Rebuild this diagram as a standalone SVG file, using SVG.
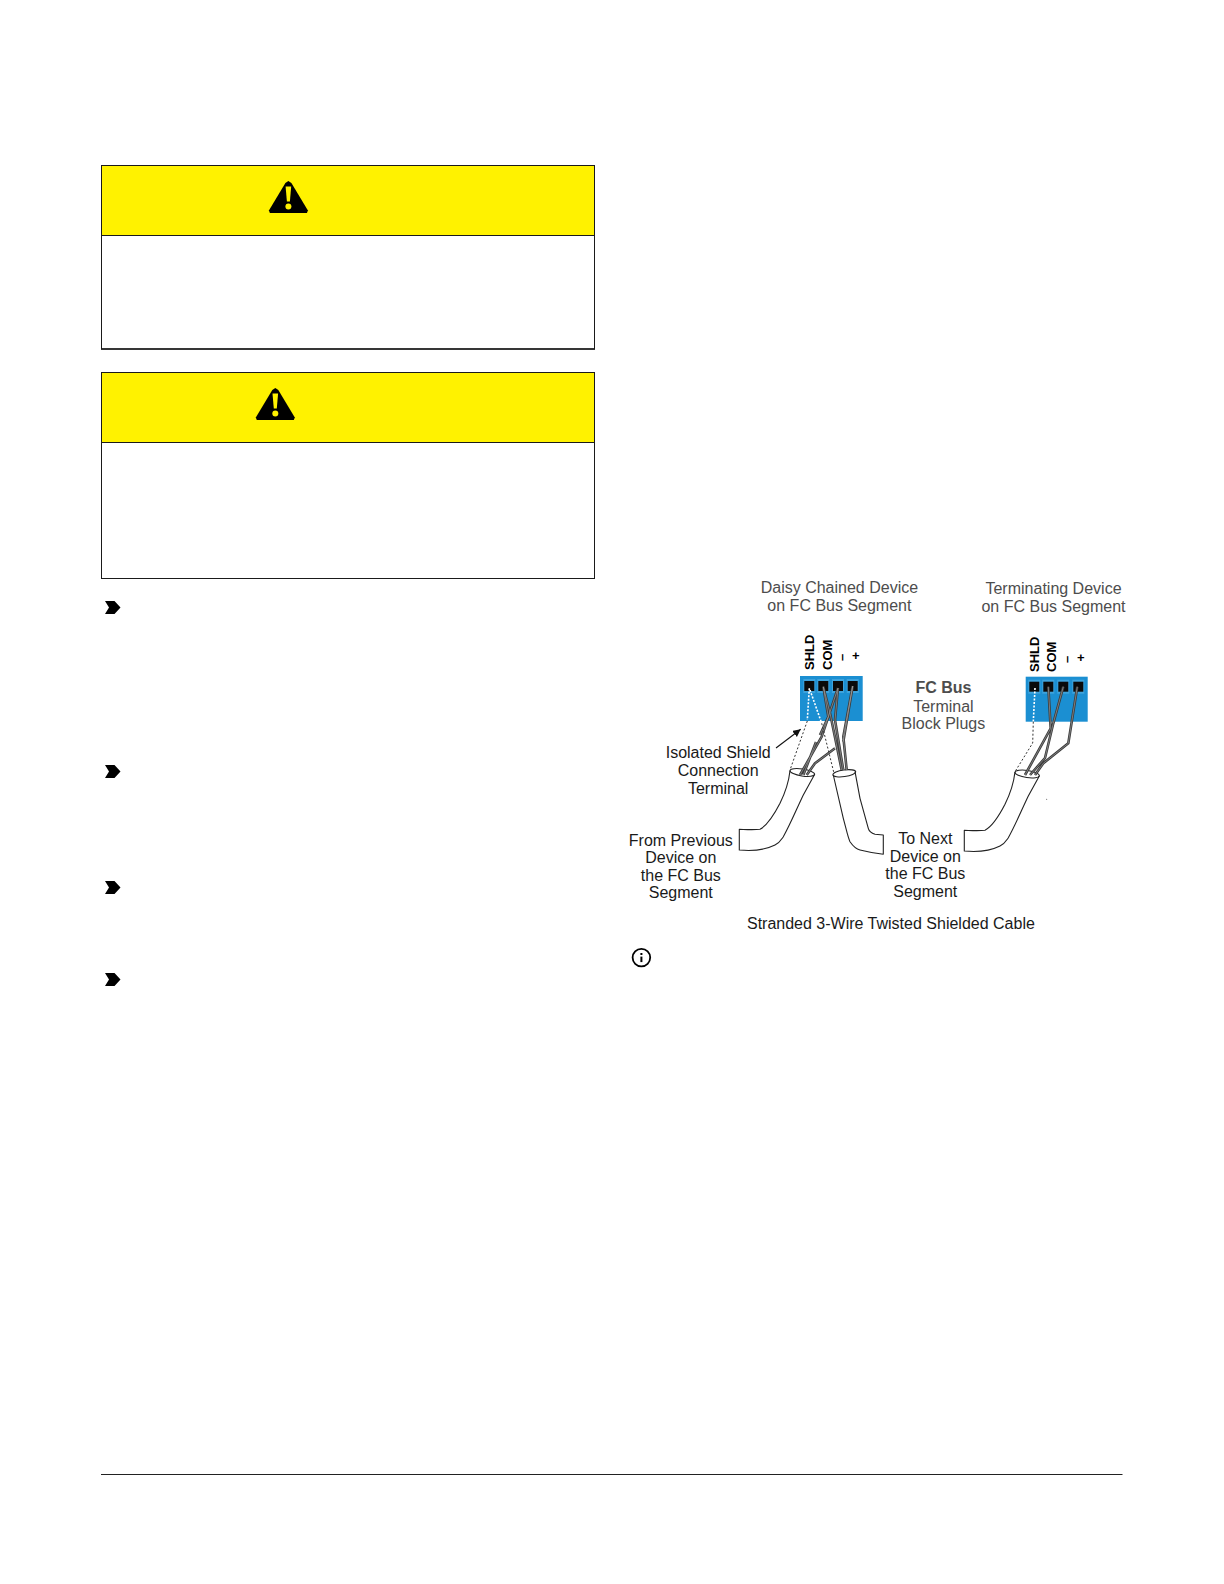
<svg xmlns="http://www.w3.org/2000/svg" width="1224" height="1584" viewBox="0 0 1224 1584">
<style>
text{font-family:"Liberation Sans",Arial,sans-serif;font-size:16px;fill:#1a1a1a;text-anchor:middle}
.g{fill:#4d4d4d}
.box{fill:#fff;stroke:#1a1a1a;stroke-width:1}
.ban{fill:#fff200;stroke:#1a1a1a;stroke-width:1}
text.lab{font-size:13px;font-weight:bold;fill:#000;text-anchor:start}
.blk{fill:#1b8fd2}
.pad{fill:#3ea3dc}
.sock{fill:#0a0a0a}
.cab{fill:#fff;stroke:#222;stroke-width:1.1;stroke-linejoin:round}
.rim{fill:none;stroke:#222;stroke-width:1.1}
.w{fill:none;stroke:#3c3c3c;stroke-width:2.6;stroke-linejoin:round}
.wc{fill:none;stroke:#aaa;stroke-width:.6}
.dk{fill:none;stroke:#333;stroke-width:1;stroke-dasharray:2 2}
.dw{fill:none;stroke:#fff;stroke-width:1.6;stroke-dasharray:2 1.5}
</style>
<defs>
<g id="warn"><path d="M0-16 3-14 19.500 13.500 18.500 16H-18.500L-19.500 13.500-3-14Z" fill="#000"/><path d="M-2.800-10.500H2.800L1.500 4.500H-1.500Z" fill="#fff200"/><circle cy="9.500" r="3" fill="#fff200"/></g>
<path id="chev" d="M0 0H9.500L15.500 6.500 9.500 13H0L4 6.500Z" fill="#000"/>
<marker id="ah" markerWidth="8" markerHeight="8" refX="7" refY="3.500" orient="auto"><path d="M0 0 7 3.500 0 7Z" fill="#111"/></marker>
<g id="sockets"><rect class="pad" x="-5" y="-4" width="12" height="14"/><rect class="sock" x="-4" y="-2" width="10" height="10"/></g>
<path id="sleeve" d="M790 770.700C789 780 785 793 780 803.300 775 813 768 825 760 829.300 753 830 746 829.500 739.300 829.300V850C750 851 765 850 775 845 780 842.500 781 840 783.300 836.700 790 825 797 808 803.300 795L814.300 775"/>
<path id="w1" d="M823.300 686.700 830 713 841.700 770M838 688 821.700 736.700 800 775M838 688 835 720 843.300 770M852.700 686 843.300 736.700 846.700 770M852.700 686 843.300 741.700M835 748.300 815 763.300 806.700 775M823.300 686.700 828.300 716.700 820 735M816 742 803.300 775"/>
<path id="w2" d="M1048.300 686.700 1050.700 728.300 1025 775M1063.300 686.700 1053.300 723.300 1045 758 1030 775M1077.300 686.700 1068.300 743.300 1043.300 763.300 1035 775"/>
</defs>
<g id="warning-1"><rect class="box" x="101.500" y="165.500" width="493" height="183.500"/><line x1="101" y1="349" x2="595" y2="349" stroke="#1a1a1a" stroke-width="1.600"/><rect class="ban" x="101.500" y="165.500" width="493" height="70"/><use href="#warn" x="288.400" y="197"/></g>
<g id="warning-2"><rect class="box" x="101.500" y="372.500" width="493" height="206"/><rect class="ban" x="101.500" y="372.500" width="493" height="70"/><use href="#warn" x="275.300" y="404"/></g>
<g id="bullets"><use href="#chev" x="105" y="601"/><use href="#chev" x="105" y="765"/><use href="#chev" x="105" y="881"/><use href="#chev" x="105" y="973"/></g>
<g id="info"><circle cx="641.400" cy="957.600" r="8.800" fill="none" stroke="#000" stroke-width="1.800"/><rect x="640.400" y="956.600" width="2" height="5.500"/><rect x="640.400" y="953" width="2" height="2"/></g>
<line id="footer-rule" x1="101" y1="1474.500" x2="1122.500" y2="1474.500" stroke="#222" stroke-width="1"/>

<g id="cable-1"><use href="#sleeve" class="cab"/><ellipse class="rim" cx="802.300" cy="772.500" rx="12.500" ry="3.500" transform="rotate(9 802.300 772.500)"/></g>
<g id="cable-2"><path class="cab" d="M833.300 775 843.300 818.300C846 828 848 838 850 841.700 853 846 856 849 860 850 868 852 876 853.500 883.300 854.300V835L875 834.300C871 833 869 831 868.300 828.300L860 798.300 855 771.700"/><ellipse class="rim" cx="844.300" cy="773.300" rx="11.500" ry="3.300" transform="rotate(-8 844.300 773.300)"/></g>
<g id="cable-3"><use href="#sleeve" class="cab" x="225" y="1"/><ellipse class="rim" cx="1027.200" cy="774" rx="12.300" ry="3.600" transform="rotate(8 1027.200 774)"/></g>

<g id="block-1"><rect class="blk" x="800" y="676" width="62.700" height="45"/><use href="#sockets" x="808.300" y="683"/><use href="#sockets" x="822.300" y="683"/><use href="#sockets" x="837" y="683"/><use href="#sockets" x="851.700" y="683"/>
<text class="lab" transform="translate(814 670) rotate(-90)">SHLD</text><text class="lab" transform="translate(831.500 670) rotate(-90)">COM</text><text class="lab" transform="translate(846 661) rotate(-90)">–</text><text class="lab" x="852" y="660">+</text></g>
<g id="block-2"><rect class="blk" x="1025.700" y="676.700" width="62" height="45"/><use href="#sockets" x="1033.300" y="683.700"/><use href="#sockets" x="1047.300" y="683.700"/><use href="#sockets" x="1062.300" y="683.700"/><use href="#sockets" x="1077.300" y="683.700"/>
<text class="lab" transform="translate(1039 672) rotate(-90)">SHLD</text><text class="lab" transform="translate(1056 672) rotate(-90)">COM</text><text class="lab" transform="translate(1070.500 663) rotate(-90)">–</text><text class="lab" x="1077" y="662">+</text></g>

<g id="connectors">
<use href="#w1" class="w"/><use href="#w1" class="wc"/>
<path class="dw" d="M809.300 688.300 807.300 720M810 690 821.700 723.300"/><path class="dk" d="M807.300 721 790 770M821.700 723.300 834 773.300"/>
<use href="#w2" class="w"/><use href="#w2" class="wc"/>
<path class="dw" d="M1035 688 1033.300 721.700"/><path class="dk" d="M1033.300 721.700 1032.700 743 1015 771.700"/>
<line x1="776" y1="748" x2="800.700" y2="729.300" stroke="#111" stroke-width="1.100" marker-end="url(#ah)"/>
<circle cx="1046.700" cy="799.300" r=".5" fill="#444"/>
</g>

<g id="labels">
<text class="g" x="839.400" y="593">Daisy Chained Device</text><text class="g" x="839.400" y="611">on FC Bus Segment</text>
<text class="g" x="1053.500" y="594">Terminating Device</text><text class="g" x="1053.500" y="612">on FC Bus Segment</text>
<text class="g" x="943.400" y="693" style="font-weight:bold">FC Bus</text><text class="g" x="943.400" y="712">Terminal</text><text class="g" x="943.400" y="729.300">Block Plugs</text>
<text x="718.200" y="757.600">Isolated Shield</text><text x="718.200" y="775.800">Connection</text><text x="718.200" y="794">Terminal</text>
<text x="680.800" y="845.500">From Previous</text><text x="680.800" y="862.600">Device on</text><text x="680.800" y="880.800">the FC Bus</text><text x="680.800" y="898">Segment</text>
<text x="925.300" y="843.500">To Next</text><text x="925.300" y="861.600">Device on</text><text x="925.300" y="878.800">the FC Bus</text><text x="925.300" y="897">Segment</text>
<text x="890.900" y="929.300">Stranded 3-Wire Twisted Shielded Cable</text>
</g>
</svg>
